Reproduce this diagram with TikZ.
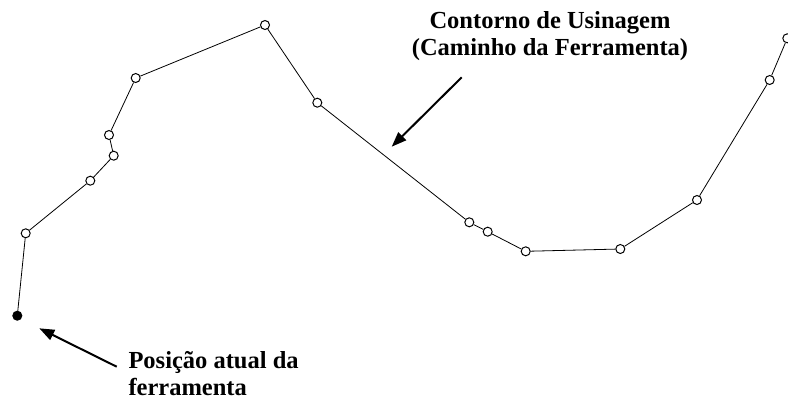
\documentclass[tikz,border=0pt]{standalone}
\usepackage{fontspec}
\setmainfont{Liberation Serif}
\usetikzlibrary{arrows.meta,positioning,calc}

\begin{document}
\begin{tikzpicture}[
  x=1pt, y=-1pt,
  vertex/.style={circle, draw=black, fill=white, line width=1pt, minimum size=9pt, inner sep=0pt},
  current/.style={vertex, fill=black},
  contour/.style={draw=black, line width=0.8pt},
  pointer/.style={draw=black, line width=2pt, -{Triangle[length=15pt, width=11pt]}},
  lab/.style={font=\fontsize{24.5}{27}\selectfont\bfseries, inner sep=0pt},
]
\useasboundingbox (0,0) rectangle (788,400);
% tool path points
\node[current] (p0) at (17.3,315.7) {};
\foreach \pt [count=\i] in {(25.7,233.3),(90.3,180.7),(113.7,155.7),(109,135),(135.7,78),(265,25),(317.3,102.7),(469.3,222.3),(487.7,231.7),(525.7,251.3),(620.3,249),(697,200),(769.7,80),(787.3,38.3)} {
  \node[vertex] (p\i) at \pt {};
}
\foreach \i [remember=\i as \j (initially 0)] in {1,...,14} {
  \draw[contour] (p\j) -- (p\i);
}
% labels
\node[lab, align=center, anchor=base] (contorno) at (550,55) {Contorno de Usinagem\\(Caminho da Ferramenta)};
\node[lab, align=left, anchor=base west] (posicao) at (128.3,395) {Posição atual da\\ferramenta};
\coordinate (tipA) at (391.7,146.7);
\coordinate (tipB) at (39.3,328.3);
\draw[pointer] ($(contorno.base)+(-88.3,22.3)$) -- (tipA);
\draw[pointer] ($(posicao.base west)+(-11.6,-28.3)$) -- (tipB);
\end{tikzpicture}
\end{document}
